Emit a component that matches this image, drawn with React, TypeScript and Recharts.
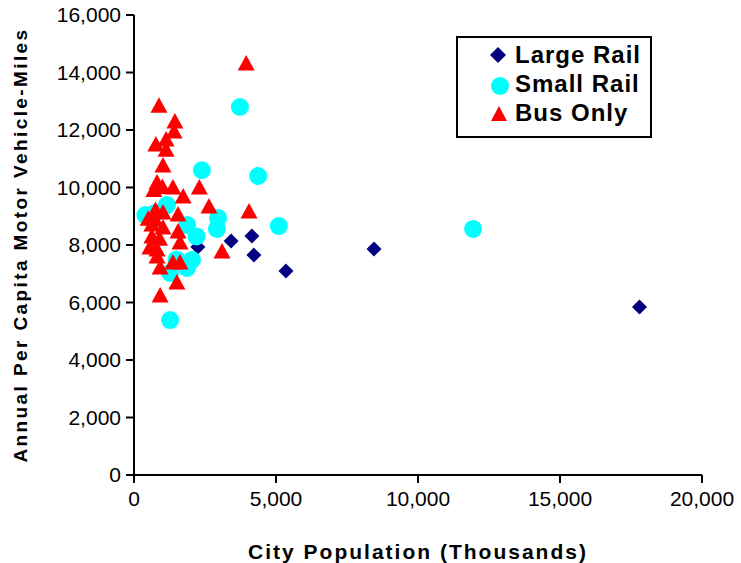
import React from "react";
import { ScatterChart, Scatter, XAxis, YAxis } from "recharts";

const largeRailX = [17800, 8450, 5350, 4150, 4220, 3420, 2250];
const largeRailY = [5840, 7860, 7100, 8310, 7650, 8140, 7930];

const smallRailX = [3730, 4370, 2390, 2960, 2920, 5100, 11940, 2200, 400, 1160, 1870, 2040, 1870, 1270, 1270, 740, 1500];
const smallRailY = [12800, 10400, 10600, 8940, 8560, 8660, 8560, 8300, 9040, 9390, 8700, 7480, 7200, 7030, 5390, 9110, 7500];

const busOnlyX = [3950, 880, 1440, 1410, 1130, 770, 1130, 1020, 810, 1000, 1370, 2300, 1730, 2640, 4050, 1020, 740, 1550, 1020, 1550, 1620, 810, 810, 920, 1370, 1620, 1510, 920, 3100, 630, 630, 500, 560, 700, 900, 760];
const busOnlyY = [14300, 12830, 12280, 11930, 11650, 11480, 11300, 10750, 10160, 10000, 9980, 9980, 9670, 9320, 9150, 9110, 8870, 9040, 8590, 8450, 8070, 7830, 7580, 7200, 7370, 7370, 6680, 6230, 7760, 8700, 8280, 8900, 7900, 9900, 8200, 9200];

const xTicks = [0, 5000, 10000, 15000, 20000];
const yTicks = [0, 2000, 4000, 6000, 8000, 10000, 12000, 14000, 16000];
const seriesNames = ["Large Rail", "Small Rail", "Bus Only"];

const toPoints = (xs: number[], ys: number[]) => xs.map((x, i) => ({ x, y: ys[i] }));
const largeRail = toPoints(largeRailX, largeRailY);
const smallRail = toPoints(smallRailX, smallRailY);
const busOnly = toPoints(busOnlyX, busOnlyY);

const fmt = (v: number) => v.toLocaleString("en-US");
const FONT = "'Liberation Sans', Arial, sans-serif";

const Diamond = (p: any) => {
  const { cx, cy } = p;
  const r = 7.5;
  return <path d={`M${cx},${cy - r}L${cx + r},${cy}L${cx},${cy + r}L${cx - r},${cy}Z`} fill="#000080" />;
};
const Circle = (p: any) => <circle cx={p.cx} cy={p.cy} r={9} fill="#00FFFF" />;
const Triangle = (p: any) => {
  const { cx, cy } = p;
  return <path d={`M${cx},${cy - 9}L${cx + 8.5},${cy + 6.5}L${cx - 8.5},${cy + 6.5}Z`} fill="#FF0000" />;
};

const LegendBox = () => (
  <svg
    width={196}
    height={102}
    style={{ position: "absolute", left: 456, top: 36 }}
  >
    <rect x={1} y={1} width={194} height={100} fill="#fff" stroke="#000" strokeWidth={2} />
    <path d="M42,11L50,19L42,27L34,19Z" fill="#000080" />
    <circle cx={44} cy={50} r={9} fill="#00FFFF" />
    <path d="M43,70L51,85L35,85Z" fill="#FF0000" />
    <text x={59} y={27} fontFamily={FONT} fontWeight="bold" fontSize={24} letterSpacing={1} fill="#000">{seriesNames[0]}</text>
    <text x={59} y={56} fontFamily={FONT} fontWeight="bold" fontSize={24} letterSpacing={1} fill="#000">{seriesNames[1]}</text>
    <text x={59} y={85} fontFamily={FONT} fontWeight="bold" fontSize={24} letterSpacing={1} fill="#000">{seriesNames[2]}</text>
  </svg>
);

export default function App() {
  return (
    <div style={{ position: "absolute", left: 0, top: 0, width: 741, height: 563, background: "#fff" }}>
      <ScatterChart width={741} height={563} margin={{ top: 15, right: 39, bottom: 0, left: 0 }}>
        <XAxis
          type="number"
          dataKey="x"
          domain={[0, 20000]}
          ticks={xTicks}
          tickFormatter={fmt}
          height={88}
          axisLine={{ stroke: "#000", strokeWidth: 2 }}
          tickLine={{ stroke: "#000", strokeWidth: 2 }}
          tickSize={8}
          tick={{ fill: "#000", fontSize: 21, fontFamily: FONT, dy: 6 }}
          label={{ value: "City Population (Thousands)", position: "insideBottom", offset: 4, fill: "#000", fontSize: 21, fontWeight: "bold", fontFamily: FONT, letterSpacing: 2 }}
          interval={0}
        />
        <YAxis
          type="number"
          dataKey="y"
          domain={[0, 16000]}
          ticks={yTicks}
          tickFormatter={fmt}
          width={134}
          axisLine={{ stroke: "#000", strokeWidth: 2 }}
          tickLine={{ stroke: "#000", strokeWidth: 2 }}
          tickSize={8}
          tick={{ fill: "#000", fontSize: 21, fontFamily: FONT, dx: -3 }}
          label={{ value: "Annual Per Capita Motor Vehicle-Miles", angle: -90, position: "insideLeft", offset: 0, dx: 20, fill: "#000", fontSize: 19, fontWeight: "bold", fontFamily: FONT, letterSpacing: 2.4, style: { textAnchor: "middle" } }}
          interval={0}
        />
        <Scatter name={seriesNames[0]} data={largeRail} shape={Diamond} isAnimationActive={false} />
        <Scatter name={seriesNames[1]} data={smallRail} shape={Circle} isAnimationActive={false} />
        <Scatter name={seriesNames[2]} data={busOnly} shape={Triangle} isAnimationActive={false} />
      </ScatterChart>
      <LegendBox />
    </div>
  );
}
